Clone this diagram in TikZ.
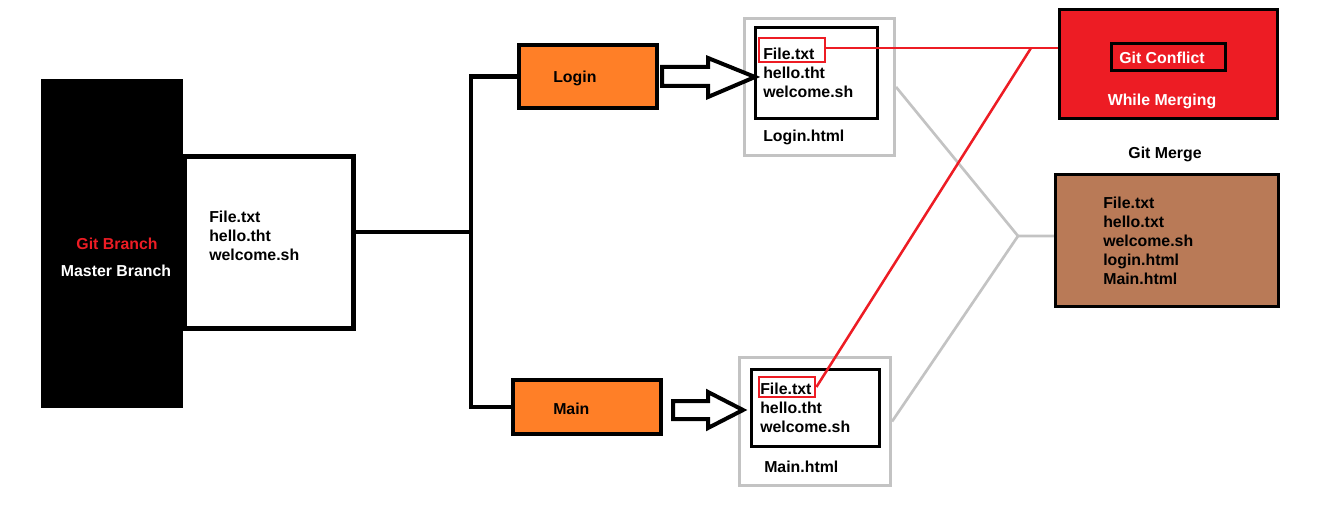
\documentclass[tikz,border=0pt]{standalone}
\usepackage{fontspec}
\setmainfont{Liberation Sans}
\usetikzlibrary{fit}
\definecolor{porange}{HTML}{FF7F27}
\definecolor{pred}{HTML}{ED1C24}
\definecolor{pbrown}{HTML}{B97A57}
\definecolor{pgray}{HTML}{C3C3C3}
\tikzset{
  box/.style={inner sep=0pt, draw=black, line width=3.3pt},
  thinbox/.style={inner sep=0pt, draw=black, line width=2.3pt},
  graybox/.style={inner sep=0pt, draw=pgray, line width=2.3pt},
  redbox/.style={inner sep=0pt, draw=pred, line width=2.1pt},
  txt/.style={inner sep=0pt, font=\fontsize{11.9}{14.25}\selectfont\bfseries, align=left},
  conn/.style={line width=3.2pt, line join=miter},
  grayconn/.style={draw=pgray, line width=2pt},
  redconn/.style={draw=pred, line width=1.9pt},
  blockarrow/.style={draw=black, fill=white, line width=3pt, line join=miter},
}
\begin{document}
\begin{tikzpicture}[x=0.75pt,y=-0.75pt]
\useasboundingbox (0,0) rectangle (1326,506);
% master
\node[fit={(41,79)(183,408)}, inner sep=0pt, fill=black] (black) {};
\node[txt, text=pred, anchor=center] (gb) at (117,244) {Git Branch};
\node[txt, text=white, anchor=center] (mb) at (116,271) {Master Branch};
\node[fit={(185,156.5)(353.5,328.5)}, box, fill=white] (master) {};
\node[txt, anchor=west] (mtxt) at (209,236) {File.txt\\hello.tht\\welcome.sh};
% branches
\node[fit={(519,45)(657,108)}, box, fill=porange] (login) {};
\node[txt, anchor=west] (logint) at (553,78) {Login};
\node[fit={(513,380)(661,434)}, box, fill=porange] (main) {};
\node[txt, anchor=west] (maint) at (553,409) {Main};
\coordinate (jt) at (471,76);
\coordinate (jm) at (471,232);
\draw[conn] (master.east |- jm) -- (jm);
\draw[conn] (login.west) -- (login.west -| jt) -- (main.west -| jt) -- (main.west);
% login files
\node[fit={(744.5,18.5)(894.5,155.5)}, graybox] (lgray) {};
\node[fit={(755.5,27.5)(877.5,118.5)}, thinbox] (linner) {};
\node[txt, anchor=west] (ltxt) at (763,73) {File.txt\\hello.tht\\welcome.sh};
\node[txt, anchor=west] (lhtml) at (763,137) {Login.html};
\node[fit={(759,38)(825,62)}, redbox] (lred) {};
% main files
\node[fit={(739.5,357.5)(890.5,485.5)}, graybox] (mgray) {};
\node[fit={(751.5,369.5)(879.5,446.5)}, thinbox] (minner) {};
\node[txt, anchor=west] (mftxt) at (760,408) {File.txt\\hello.tht\\welcome.sh};
\node[txt, anchor=west] (mhtml) at (764,467) {Main.html};
\node[fit={(759,377)(815,397)}, redbox] (mred) {};
% block arrows
\draw[blockarrow] (662,67) -- (708,67) -- (708,58) -- (755,77) -- (708,97) -- (708,86) -- (662,86) -- cycle;
\draw[blockarrow] (673,401) -- (708,401) -- (708,392) -- (743,410) -- (708,428) -- (708,419) -- (673,419) -- cycle;
% conflict
\node[fit={(1059.5,9.5)(1277.5,118.5)}, box, line width=2.5pt, fill=pred] (conflict) {};
\node[fit={(1111.5,43.5)(1225.5,70.5)}, thinbox] (cinner) {};
\node[txt, text=white, anchor=center] (gc) at (1162,58) {Git Conflict};
\node[txt, text=white, anchor=center] (wm) at (1162,101) {While Merging};
% merge
\node[txt, anchor=center] (gm) at (1165,154) {Git Merge};
\node[fit={(1055.5,174.5)(1278.5,306.5)}, box, line width=2.5pt, fill=pbrown] (brown) {};
\node[txt, anchor=west] (btxt) at (1103,241) {File.txt\\hello.txt\\welcome.sh\\login.html\\Main.html};
% gray merge lines
\coordinate (gj) at (1018,236);
\draw[grayconn] (lgray.east) -- (gj) -- (brown.west |- gj);
\draw[grayconn] (mgray.east) -- (gj);
% red conflict lines
\coordinate (rj) at (1031,48);
\draw[redconn] (lred.east |- rj) -- (rj) -- (rj -| conflict.west);
\draw[redconn] (mred.east) -- (rj);
\end{tikzpicture}
\end{document}
